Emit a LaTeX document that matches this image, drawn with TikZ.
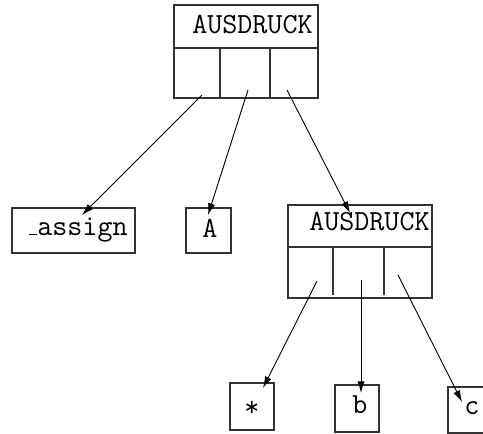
\documentclass[tikz,border=0pt]{standalone}
\usetikzlibrary{arrows.meta}
\begin{document}
\begin{tikzpicture}[x=0.5pt,y=-0.5pt,
  frame/.style={draw=black!80, line width=0.6pt, inner sep=0pt},
  lbl/.style={font=\ttfamily\fontsize{14.6}{17}\selectfont, inner sep=0pt},
  link/.style={-{Latex[length=5.8pt,width=3.6pt]}, line width=0.45pt}]
\useasboundingbox (0,0) rectangle (483,434);

% upper record: AUSDRUCK with three slots
\node[frame, minimum width=72pt, minimum height=46.5pt] (top) at (246,51.5) {};
\draw[frame] (174,48) -- (318,48);
\draw[frame] (220,48) -- (220,97);
\draw[frame] (270,48) -- (270,97);
\node[lbl, anchor=base east] (topt) at (313,33) {AUSDRUCK};

% lower record: AUSDRUCK with three slots
\node[frame, minimum width=72pt, minimum height=46.5pt] (sub) at (360,251.5) {};
\draw[frame] (288,247) -- (432,247);
\draw[frame] (333,247) -- (333,295);
\draw[frame] (384,247) -- (384,295);
\node[lbl, anchor=base east] (subt) at (430,230) {AUSDRUCK};

% leaves
\node[frame, minimum width=61.5pt, minimum height=22.5pt] (assign) at (73.5,230.5) {};
\node[lbl, anchor=base east] (assignt) at (128,235) {\kern.06em\vbox{\hrule width.3em}assign};
\node[frame, minimum width=22.5pt, minimum height=22.5pt] (A) at (208.5,230.5) {};
\node[lbl, anchor=base] (At) at (210,237) {A};
\node[frame, minimum width=22pt, minimum height=23.5pt] (star) at (252,406.5) {};
\node[lbl, anchor=base] (start) at (252,416) {*};
\node[frame, minimum width=22pt, minimum height=23.5pt] (b) at (357,408.5) {};
\node[lbl, anchor=base] (bt) at (360,413) {b};
\node[frame, minimum width=22pt, minimum height=23pt] (c) at (470,410) {};
\node[lbl, anchor=base west] (ct) at (464,414) {c};

% slot pointers
\coordinate (p1) at (202,95);  \coordinate (q1) at (82,215);
\coordinate (p2) at (248,90);  \coordinate (q2) at (208,215);
\coordinate (p3) at (287,90);  \coordinate (q3) at (350,213);
\coordinate (p4) at (317,281); \coordinate (q4) at (263,388);
\coordinate (p5) at (361,280); \coordinate (q5) at (361,393);
\coordinate (p6) at (398,275); \coordinate (q6) at (462,402);
\foreach \i in {1,...,6} \draw[link] (p\i) -- (q\i);
\end{tikzpicture}
\end{document}
